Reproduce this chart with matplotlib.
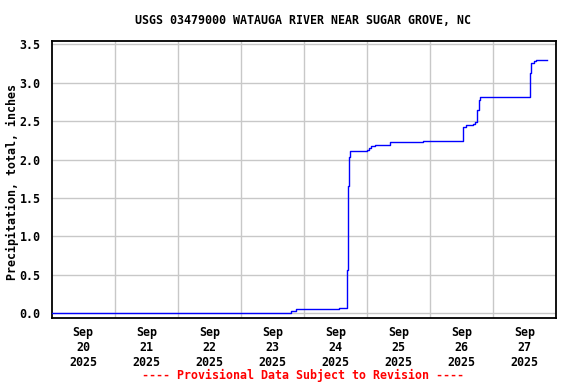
import matplotlib
matplotlib.use("Agg")
import matplotlib.pyplot as plt
import pandas as pd

title = "USGS 03479000 WATAUGA RIVER NEAR SUGAR GROVE, NC"
ylabel = "Precipitation, total, inches"
footer = "---- Provisional Data Subject to Revision ----"

times = [
    "2025-09-20 00:00", "2025-09-23 19:15", "2025-09-23 21:00", "2025-09-24 13:30",
    "2025-09-24 16:15", "2025-09-24 16:45", "2025-09-24 17:15", "2025-09-24 17:30",
    "2025-09-25 00:00", "2025-09-25 00:45", "2025-09-25 01:45", "2025-09-25 03:00",
    "2025-09-25 08:45", "2025-09-25 21:30", "2025-09-26 12:45", "2025-09-26 13:45",
    "2025-09-26 16:30", "2025-09-26 17:00", "2025-09-26 17:45", "2025-09-26 18:30",
    "2025-09-26 18:45", "2025-09-26 19:15", "2025-09-27 14:15", "2025-09-27 14:30",
    "2025-09-27 15:30", "2025-09-27 16:15", "2025-09-27 20:45",
]
precip = [
    0.00, 0.03, 0.05, 0.07,
    0.56, 1.66, 2.03, 2.11,
    2.13, 2.15, 2.18, 2.19,
    2.23, 2.24, 2.43, 2.45,
    2.46, 2.49, 2.64, 2.68,
    2.78, 2.81, 3.13, 3.26,
    3.28, 3.30, 3.30,
]

day_ticks = ["2025-09-20 12:00", "2025-09-21 12:00", "2025-09-22 12:00", "2025-09-23 12:00",
             "2025-09-24 12:00", "2025-09-25 12:00", "2025-09-26 12:00", "2025-09-27 12:00"]
day_labels = ["Sep\n20\n2025", "Sep\n21\n2025", "Sep\n22\n2025", "Sep\n23\n2025",
              "Sep\n24\n2025", "Sep\n25\n2025", "Sep\n26\n2025", "Sep\n27\n2025"]
grid_days = ["2025-09-21", "2025-09-22", "2025-09-23", "2025-09-24",
             "2025-09-25", "2025-09-26", "2025-09-27"]
y_ticks = [0.0, 0.5, 1.0, 1.5, 2.0, 2.5, 3.0, 3.5]

font = "DejaVu Sans Mono"
fs = 8.4

fig = plt.figure(figsize=(5.76, 3.84), dpi=100)
ax = fig.add_axes([51.7 / 576, 1 - 318 / 384, (556 - 51.7) / 576, (318 - 40.5) / 384])

t = pd.to_datetime(times)
ax.plot(t, precip, drawstyle="steps-post", color="#0000ff", lw=1.0, zorder=3)

ax.set_xlim(pd.Timestamp("2025-09-20"), pd.Timestamp("2025-09-28"))
ax.set_ylim(-0.065, 3.552)

for g in pd.to_datetime(grid_days):
    ax.axvline(g, color="#c8c8c8", lw=1.0, zorder=1)
for y in y_ticks:
    ax.axhline(y, color="#c8c8c8", lw=1.0, zorder=1)

ax.set_xticks(pd.to_datetime(day_ticks))
ax.set_xticklabels(day_labels, fontfamily=font, fontweight="bold", fontsize=fs, linespacing=1.2)
ax.set_yticks(y_ticks)
ax.set_yticklabels([f"{v:.1f}" for v in y_ticks], fontfamily=font, fontweight="bold", fontsize=fs)
ax.tick_params(axis="both", length=0)
ax.tick_params(axis="x", pad=6)
ax.tick_params(axis="y", pad=8)

for s in ax.spines.values():
    s.set_linewidth(1.3)
    s.set_color("black")

fig.text(12 / 576, 1 - 182 / 384, ylabel, ha="center", va="center", rotation=90,
         fontfamily=font, fontweight="bold", fontsize=fs)
fig.text(303 / 576, 1 - 20 / 384, title, ha="center", va="center",
         fontfamily=font, fontweight="bold", fontsize=fs)
fig.text(303 / 576, 1 - 375 / 384, footer, ha="center", va="center",
         fontfamily=font, fontweight="bold", fontsize=fs, color="red")

fig.savefig("out.png", dpi=100)
